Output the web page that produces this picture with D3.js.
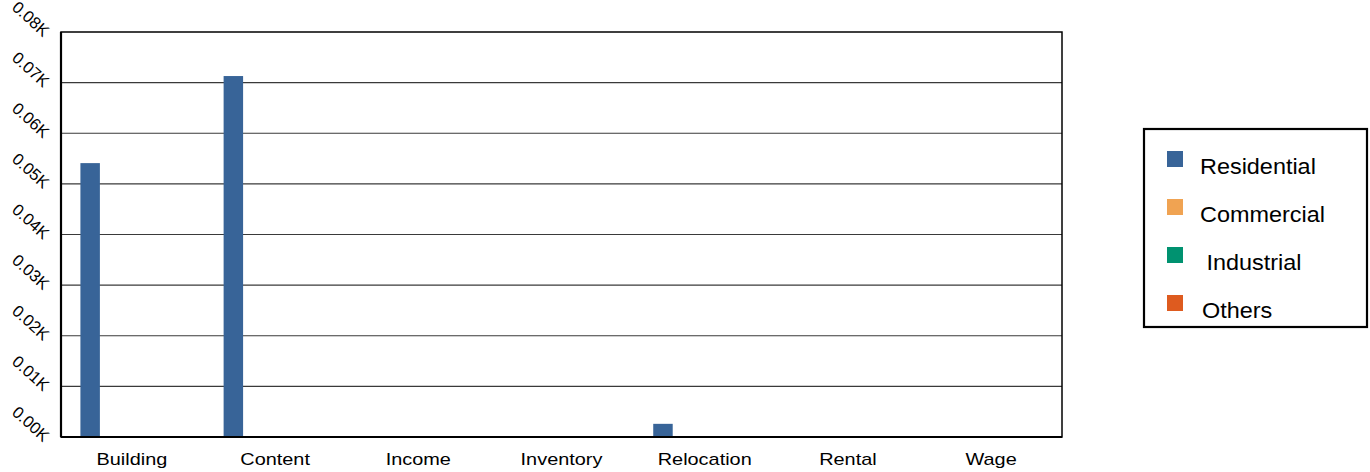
<!DOCTYPE html>
<html>
<head>
<meta charset="utf-8">
<script src="https://cdn.jsdelivr.net/npm/d3@7"></script>
<style>
  html, body { margin: 0; padding: 0; background: #fff; }
  svg { display: block; font-family: "Liberation Sans", Arial, sans-serif; }
</style>
</head>
<body>
<svg id="chart" width="1370" height="472"></svg>
<script>
// Loss categories along the x axis
const categories = ["Building", "Content", "Income", "Inventory", "Relocation", "Rental", "Wage"];
// Occupancy series (legend order)
const seriesNames = ["Residential", "Commercial", "Industrial", "Others"];
const seriesLabels = ["Residential", "Commercial", "\u00a0Industrial", "Others"];
const seriesColors = ["#386498", "#f0a352", "#009270", "#de5b1f"];
// Values per series, one per category
const residential = [54.1, 71.3, 0, 0, 2.6, 0, 0];
const commercial  = [0, 0, 0, 0, 0, 0, 0];
const industrial  = [0, 0, 0, 0, 0, 0, 0];
const others      = [0, 0, 0, 0, 0, 0, 0];
const seriesValues = [residential, commercial, industrial, others];
// Y axis ticks
const yTicks = [0, 10, 20, 30, 40, 50, 60, 70, 80];
const yTickLabels = ["0.00K", "0.01K", "0.02K", "0.03K", "0.04K", "0.05K", "0.06K", "0.07K", "0.08K"];

const svg = d3.select("#chart");
const plot = { left: 61, right: 1062, top: 32, bottom: 437 };

const x0 = d3.scaleBand().domain(categories)
  .range([plot.left, plot.right]).paddingInner(0.25).paddingOuter(0.12);
const x1 = d3.scaleBand().domain(seriesNames)
  .range([0, x0.bandwidth()]).paddingInner(0.3).paddingOuter(0.08);
const y = d3.scaleLinear().domain([0, 80]).range([plot.bottom, plot.top]);

// Horizontal grid lines
svg.append("g")
  .selectAll("line")
  .data(yTicks.slice(1, -1))
  .join("line")
  .attr("x1", plot.left).attr("x2", plot.right)
  .attr("y1", d => y(d)).attr("y2", d => y(d))
  .attr("stroke", "#3a3a3a").attr("stroke-width", 1.2);

// Bars
const data = [];
categories.forEach((c, i) => {
  seriesNames.forEach((s, j) => {
    data.push({ cat: c, series: s, value: seriesValues[j][i], color: seriesColors[j] });
  });
});
svg.append("g")
  .selectAll("rect")
  .data(data.filter(d => d.value > 0))
  .join("rect")
  .attr("x", d => x0(d.cat) + x1(d.series))
  .attr("width", x1.bandwidth())
  .attr("y", d => y(d.value))
  .attr("height", d => y(0) - y(d.value))
  .attr("fill", d => d.color);

// Plot frame
svg.append("rect")
  .attr("x", plot.left).attr("y", plot.top)
  .attr("width", plot.right - plot.left).attr("height", plot.bottom - plot.top)
  .attr("fill", "none").attr("stroke", "#000").attr("stroke-width", 1.5);
svg.append("line")
  .attr("x1", plot.left).attr("x2", plot.left)
  .attr("y1", plot.top).attr("y2", plot.bottom)
  .attr("stroke", "#000").attr("stroke-width", 2.2);
svg.append("line")
  .attr("x1", plot.left).attr("x2", plot.right)
  .attr("y1", plot.bottom).attr("y2", plot.bottom)
  .attr("stroke", "#000").attr("stroke-width", 2.2);

// Y axis labels, slanted
const yAxis = d3.axisLeft(y).tickValues(yTicks)
  .tickFormat((d, i) => yTickLabels[i]).tickSize(0).tickPadding(0);
const gy = svg.append("g").attr("transform", `translate(${plot.left},0)`).call(yAxis);
gy.select(".domain").remove();
gy.selectAll(".tick text")
  .attr("x", null).attr("dy", null)
  .attr("text-anchor", "end")
  .style("font-size", "16.5px")
  .attr("font-family", "'Liberation Sans', Arial, sans-serif")
  .attr("fill", "#000")
  .attr("transform", "translate(-18,5) rotate(42)");

// X axis category labels
const xAxis = d3.axisBottom(x0).tickSize(0).tickPadding(0);
const gx = svg.append("g").attr("transform", `translate(0,${plot.bottom})`).call(xAxis);
gx.select(".domain").remove();
gx.selectAll(".tick text")
  .attr("y", 0).attr("dy", null)
  .style("font-size", "17px")
  .attr("font-family", "'Liberation Sans', Arial, sans-serif")
  .attr("fill", "#000")
  .attr("transform", "translate(0,28) scale(1.17,1)");

// Legend
const legend = svg.append("g");
legend.append("rect")
  .attr("x", 1144).attr("y", 129).attr("width", 223).attr("height", 198)
  .attr("fill", "#fff").attr("stroke", "#000").attr("stroke-width", 2.2);
const items = legend.selectAll("g.item")
  .data(seriesNames)
  .join("g").attr("class", "item")
  .attr("transform", (d, i) => `translate(1167,${151 + i * 48})`);
items.append("rect")
  .attr("width", 16).attr("height", 16)
  .attr("fill", (d, i) => seriesColors[i]);
items.append("text")
  .attr("x", 0).attr("y", 0)
  .attr("transform", (d, i) => `translate(${i === 3 ? 35 : 33},23) scale(1.09,1)`)
  .style("font-size", "21.5px")
  .attr("fill", "#000")
  .text((d, i) => seriesLabels[i]);
</script>
</body>
</html>
